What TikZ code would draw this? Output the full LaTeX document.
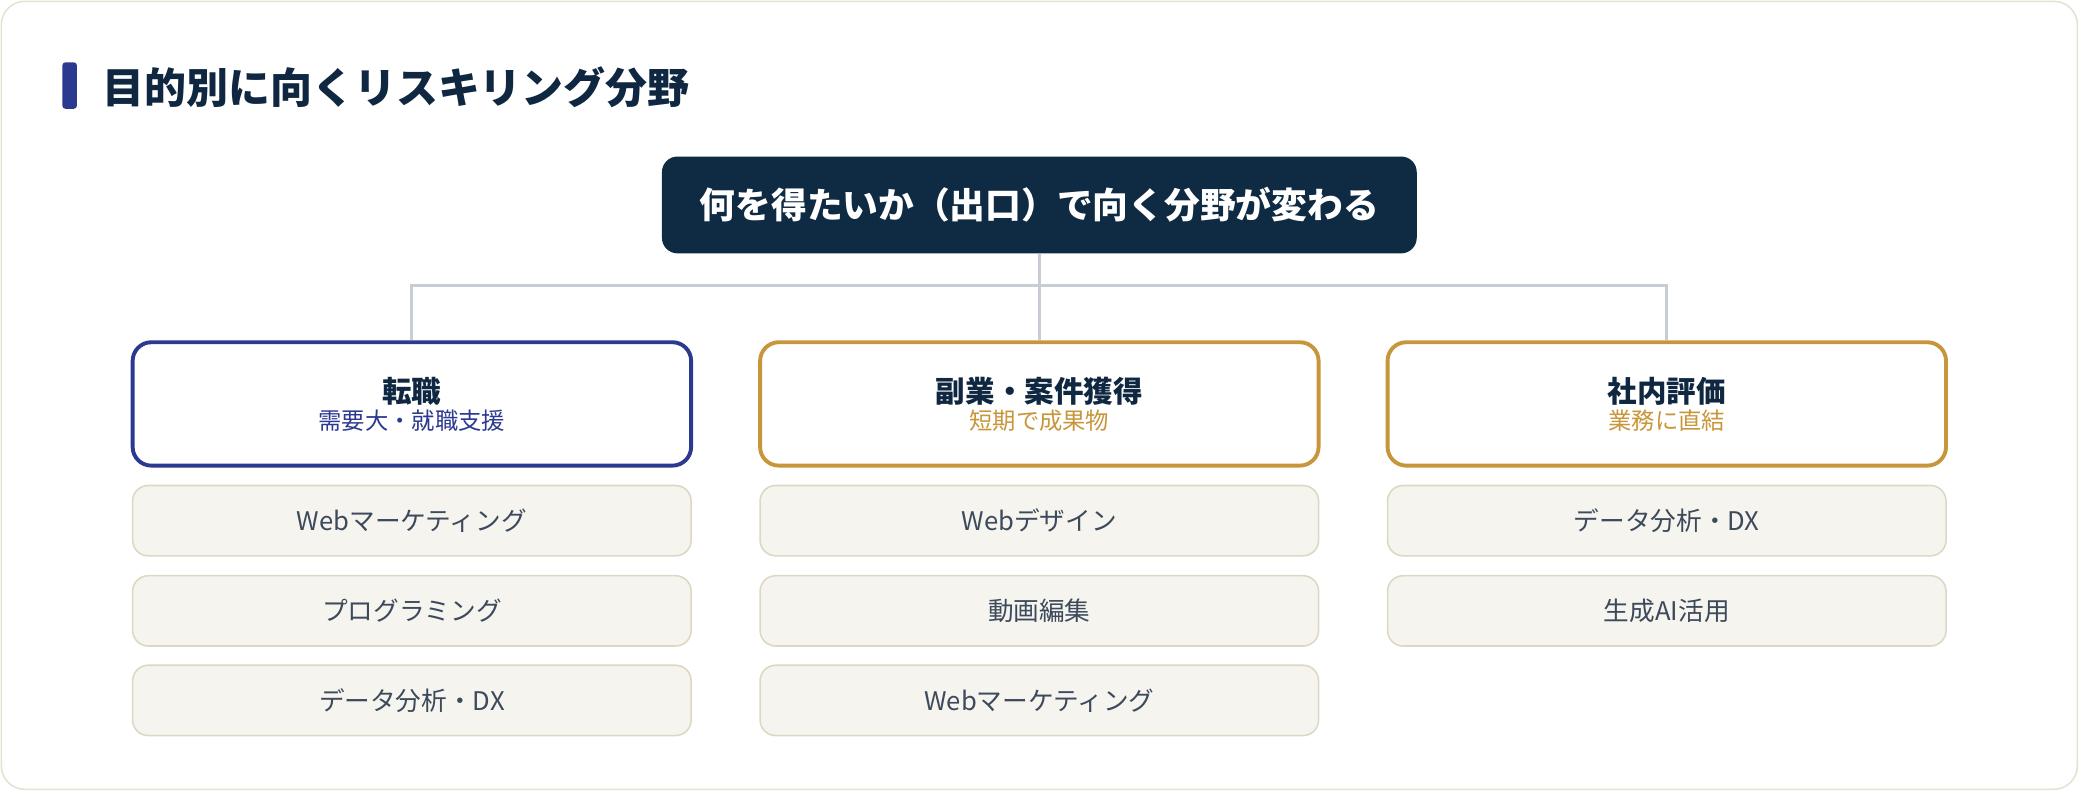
\documentclass[tikz,border=0pt]{standalone}
\usepackage{fontspec}
\setmainfont{Noto Sans CJK JP}
\definecolor{navy}{HTML}{0F2A43}
\definecolor{indig}{HTML}{2B3990}
\definecolor{gold}{HTML}{C8963A}
\definecolor{ink}{HTML}{0F2740}
\definecolor{itemtx}{HTML}{3D4A5C}
\definecolor{itemfill}{HTML}{F5F4EE}
\definecolor{itemline}{HTML}{DCD8C4}
\definecolor{conn}{HTML}{C8CCD4}
\definecolor{frame}{HTML}{E5E2D0}
\begin{document}
\begin{tikzpicture}[x=0.03cm,y=-0.03cm,
 cat/.style={draw,line width=2.5pt,fill=white,rounded corners=12,minimum width=421*0.03cm,minimum height=93*0.03cm,align=center,inner sep=0},
 item/.style={draw=itemline,line width=1pt,fill=itemfill,rounded corners=10,minimum width=421*0.03cm,minimum height=53*0.03cm,text=itemtx,font=\fontsize{16.5}{20}\selectfont,inner sep=0},
 conn/.style={draw=conn,line width=2pt}]
\path[use as bounding box] (0,0) rectangle (1568,597);
\draw[frame,line width=1pt,fill=white,rounded corners=15] (1,1) rectangle (1566,595);
\fill[indig,rounded corners=2] (47,47) rectangle (58,82);
\node[anchor=west,text=ink,font=\fontsize{27}{32}\selectfont\bfseries] (title) at (73,66) {目的別に向くリスキリング分野};
\node[fill=navy,rounded corners=10,minimum width=569*0.03cm,minimum height=73*0.03cm,text=white,font=\fontsize{23}{28}\selectfont\bfseries] (top) at (783.5,154.5) {何を得たいか（出口）で向く分野が変わる};
\node[cat,draw=indig] (c1) at (310.5,304.5) {{\fontsize{19}{24}\selectfont\bfseries\color{ink}転職}\\[2pt]{\fontsize{15}{18}\selectfont\color{indig}需要大・就職支援}};
\node[cat,draw=gold] (c2) at (783.5,304.5) {{\fontsize{19}{24}\selectfont\bfseries\color{ink}副業・案件獲得}\\[2pt]{\fontsize{15}{18}\selectfont\color{gold}短期で成果物}};
\node[cat,draw=gold] (c3) at (1256.5,304.5) {{\fontsize{19}{24}\selectfont\bfseries\color{ink}社内評価}\\[2pt]{\fontsize{15}{18}\selectfont\color{gold}業務に直結}};
\coordinate (j) at (783.5,215);
\draw[conn] (top.south) -- (j);
\draw[conn] (c1.north) |- (j) -| (c3.north);
\draw[conn] (j) -- (c2.north);
\node[item] (a1) at (310.5,392.5) {Webマーケティング};
\node[item] (a2) at (310.5,460.5) {プログラミング};
\node[item] (a3) at (310.5,528) {データ分析・DX};
\node[item] (b1) at (783.5,392.5) {Webデザイン};
\node[item] (b2) at (783.5,460.5) {動画編集};
\node[item] (b3) at (783.5,528) {Webマーケティング};
\node[item] (d1) at (1256.5,392.5) {データ分析・DX};
\node[item] (d2) at (1256.5,460.5) {生成AI活用};
\end{tikzpicture}
\end{document}
